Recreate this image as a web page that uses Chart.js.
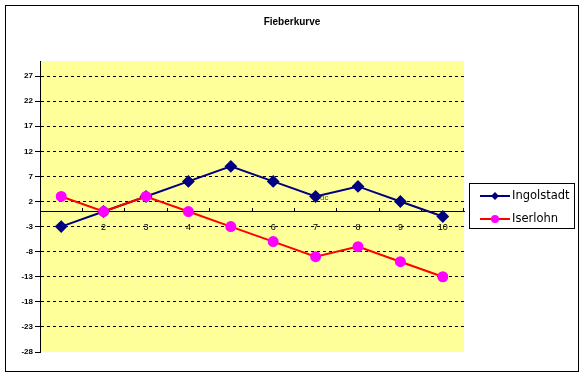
<!DOCTYPE html>
<html>
<head>
<meta charset="utf-8">
<script src="https://cdn.jsdelivr.net/npm/chart.js@4.4.1/dist/chart.umd.min.js"></script>
<style>
    html, body { margin: 0; padding: 0; background: #fff; }
    #wrap { width: 584px; height: 377px; }
</style>
</head>
<body>
<div id="wrap"><canvas id="fieberChart" width="584" height="377"></canvas></div>
<script>
const days = ["1", "2", "3", "4", "5", "6", "7", "8", "9", "10"];
const ingolstadt = [-3, 0, 3, 6, 9, 6, 3, 5, 2, -1];
const iserlohn = [3, 0, 3, 0, -3, -6, -9, -7, -10, -13];
const yTicks = [-28, -23, -18, -13, -8, -3, 2, 7, 12, 17, 22, 27];
const chartTitle = "Fieberkurve";

const fontFamily = "'Liberation Sans', Arial, sans-serif";

// white page, outer frame, title and yellow plot area
const frame = {
    id: "frame",
    beforeDraw(chart) {
        const c = chart.ctx;
        const a = chart.chartArea;
        c.save();
        c.fillStyle = "#fff";
        c.fillRect(0, 0, chart.width, chart.height);
        c.strokeStyle = "#000";
        c.lineWidth = 1;
        c.strokeRect(5.5, 5.5, 573, 366);
        c.fillStyle = "#FFFF99";
        c.fillRect(a.left, a.top, a.right - a.left, a.bottom - a.top);
        // title is centred on the whole frame, not the plot
        c.fillStyle = "#000";
        c.font = "bold 10px " + fontFamily;
        c.textAlign = "center";
        c.textBaseline = "middle";
        c.fillText(chartTitle, 292, 22);
        c.restore();
    }
};

// Excel style legend box with line + marker
const sideLegend = {
    id: "sideLegend",
    afterDraw(chart) {
        const c = chart.ctx;
        c.save();
        c.strokeStyle = "#000";
        c.lineWidth = 1;
        c.strokeRect(469.5, 183.5, 105, 45);
        c.font = "11.5px 'DejaVu Sans', sans-serif";
        c.textBaseline = "middle";
        [0, 1].forEach((i) => {
            const ds = chart.data.datasets[i];
            const y = 196 + i * 23;
            c.strokeStyle = ds.borderColor;
            c.lineWidth = 2;
            c.beginPath();
            c.moveTo(480, y);
            c.lineTo(510, y);
            c.stroke();
            c.fillStyle = ds.pointBackgroundColor;
            c.beginPath();
            if (ds.pointStyle === "rectRot") {
                c.moveTo(495, y - 4);
                c.lineTo(499, y);
                c.lineTo(495, y + 4);
                c.lineTo(491, y);
                c.closePath();
            } else {
                c.arc(495, y, 4, 0, Math.PI * 2);
            }
            c.fill();
            c.fillStyle = "#000";
            c.fillText(ds.label, 512, y);
        });
        // stray label fragment seen in the original
        c.font = "8px " + fontFamily;
        c.fillStyle = "#555";
        c.fillText("dc", 320, 198);
        c.restore();
    }
};

new Chart(document.getElementById("fieberChart"), {
    type: "line",
    data: {
        labels: days,
        datasets: [
            {
                label: "Ingolstadt",
                data: ingolstadt,
                borderColor: "#000080",
                backgroundColor: "#000080",
                pointBackgroundColor: "#000080",
                pointBorderColor: "#000080",
                pointStyle: "rectRot",
                pointRadius: 5,
                borderWidth: 2,
                tension: 0,
                order: 1
            },
            {
                label: "Iserlohn",
                data: iserlohn,
                borderColor: "#FF0000",
                backgroundColor: "#FF00FF",
                pointBackgroundColor: "#FF00FF",
                pointBorderColor: "#FF00FF",
                pointStyle: "circle",
                pointRadius: 4.5,
                borderWidth: 2,
                tension: 0,
                order: 0
            }
        ]
    },
    options: {
        responsive: false,
        animation: false,
        layout: {
            padding: { left: 0, right: 120, top: 61, bottom: 25 }
        },
        plugins: {
            legend: { display: false },
            tooltip: { enabled: false },
            title: { display: false }
        },
        scales: {
            x: {
                type: "category",
                offset: true,
                position: { y: 0 },
                grid: {
                    offset: true,
                    drawOnChartArea: false,
                    drawTicks: true,
                    tickLength: -4,
                    tickColor: "#000"
                },
                border: { display: true, color: "#000", width: 1 },
                ticks: {
                    color: "#000",
                    padding: 15,
                    maxRotation: 0,
                    autoSkip: false,
                    font: { family: fontFamily, size: 9 }
                }
            },
            y: {
                min: -28,
                max: 30,
                afterBuildTicks: (scale) => {
                    scale.ticks = yTicks.map((v) => ({ value: v }));
                },
                afterFit: (scale) => {
                    scale.width = 40;
                },
                grid: {
                    color: (ctx) => (ctx.tick && ctx.tick.value === -28 ? "rgba(0,0,0,0)" : "#000"),
                    lineWidth: 1,
                    tickColor: "#000",
                    tickLength: 5,
                    tickBorderDash: []
                },
                border: { display: true, color: "#000", width: 1, dash: [3, 3] },
                ticks: {
                    color: "#000",
                    padding: 2,
                    font: { family: fontFamily, size: 8, weight: "bold" },
                    callback: (value) => value
                }
            }
        }
    },
    plugins: [frame, sideLegend]
});
</script>
</body>
</html>
